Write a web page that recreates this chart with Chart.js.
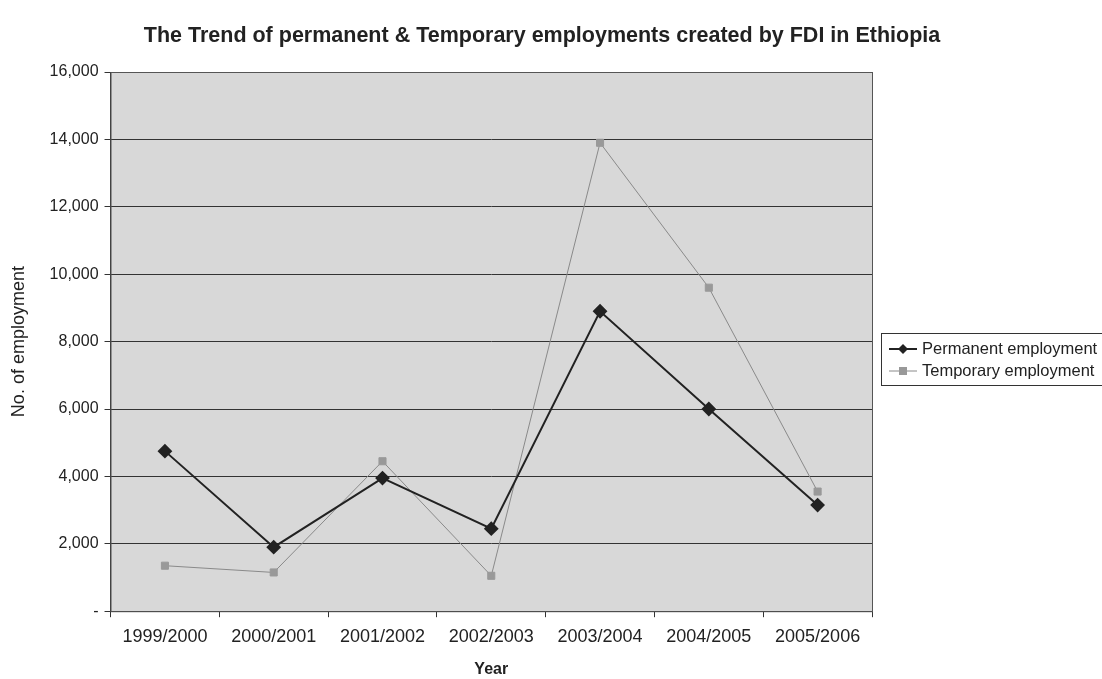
<!DOCTYPE html>
<html>
<head>
<meta charset="utf-8">
<script src="https://cdn.jsdelivr.net/npm/chart.js@4.4.1/dist/chart.umd.min.js"></script>
<style>
  html, body { margin: 0; padding: 0; background: #fff; }
  #wrap { width: 1102px; height: 679px; }
</style>
</head>
<body>
<div id="wrap"><canvas id="fdiChart" width="1102" height="679"></canvas></div>
<script>
// data
const years = ["1999/2000", "2000/2001", "2001/2002", "2002/2003", "2003/2004", "2004/2005", "2005/2006"];
const permanentJobs = [4750, 1900, 3950, 2450, 8900, 6000, 3150];
const temporaryJobs = [1350, 1150, 4450, 1050, 13900, 9600, 3550];
const yTicks = [0, 2000, 4000, 6000, 8000, 10000, 12000, 14000, 16000];
const chartTitle = "The Trend of permanent & Temporary employments created by FDI in Ethiopia";

const FONT = "'Liberation Sans', Arial, sans-serif";

// grey plot background + frame
const plotBackground = {
    id: "plotBackground",
    beforeDraw(chart) {
        const { ctx, chartArea: a } = chart;
        ctx.save();
        ctx.fillStyle = "#d8d8d8";
        ctx.fillRect(a.left, a.top, a.right - a.left, a.bottom - a.top);
        ctx.restore();
    },
    afterDraw(chart) {
        const { ctx, chartArea: a } = chart;
        ctx.save();
        ctx.strokeStyle = "#555";
        ctx.lineWidth = 1;
        ctx.strokeRect(a.left + 0.5, a.top + 0.5, a.right - a.left, a.bottom - a.top);
        ctx.restore();
    }
};

// title centred on the whole picture, not only on the plot
const pageTitle = {
    id: "pageTitle",
    afterDraw(chart) {
        const ctx = chart.ctx;
        ctx.save();
        ctx.font = "bold 21.5px " + FONT;
        ctx.fillStyle = "#222";
        ctx.textAlign = "center";
        ctx.textBaseline = "middle";
        ctx.fillText(chartTitle, 542, 36);
        ctx.restore();
    }
};

// Excel style legend: line sample with marker, framed box
const boxLegend = {
    id: "boxLegend",
    afterDraw(chart) {
        const { ctx, chartArea: a } = chart;
        const x = a.right + 9, y = 333, w = 230, h = 53;
        ctx.save();
        ctx.fillStyle = "#fff";
        ctx.fillRect(x, y, w, h);
        ctx.strokeStyle = "#333";
        ctx.lineWidth = 1;
        ctx.strokeRect(x + 0.5, y + 0.5, w - 1, h - 1);
        ctx.font = "16.5px " + FONT;
        ctx.textBaseline = "middle";
        chart.data.datasets.forEach((ds, i) => {
            const cy = y + 16 + i * 22;
            ctx.strokeStyle = ds.borderColor;
            ctx.lineWidth = ds.borderWidth;
            ctx.beginPath();
            ctx.moveTo(x + 8, cy);
            ctx.lineTo(x + 36, cy);
            ctx.stroke();
            ctx.fillStyle = ds.pointBackgroundColor;
            ctx.beginPath();
            if (ds.pointStyle === "rectRot") {
                ctx.moveTo(x + 22, cy - 5);
                ctx.lineTo(x + 27, cy);
                ctx.lineTo(x + 22, cy + 5);
                ctx.lineTo(x + 17, cy);
                ctx.closePath();
            } else {
                ctx.rect(x + 18, cy - 4, 8, 8);
            }
            ctx.fill();
            ctx.fillStyle = "#222";
            ctx.fillText(ds.label, x + 41, cy);
        });
        ctx.restore();
    }
};

new Chart(document.getElementById("fdiChart"), {
    type: "line",
    data: {
        labels: years,
        datasets: [
            {
                label: "Permanent employment",
                data: permanentJobs,
                borderColor: "#222",
                borderWidth: 2,
                pointStyle: "rectRot",
                pointRadius: 6,
                pointBackgroundColor: "#222",
                pointBorderColor: "#222",
                tension: 0
            },
            {
                label: "Temporary employment",
                data: temporaryJobs,
                borderColor: "#8a8a8a",
                borderWidth: 1,
                pointStyle: "rect",
                pointRadius: 5,
                pointBackgroundColor: "#999",
                pointBorderColor: "#999",
                tension: 0
            }
        ]
    },
    options: {
        responsive: false,
        animation: false,
        layout: { padding: { left: 8, right: 230, top: 72, bottom: 0 } },
        plugins: {
            legend: { display: false },
            tooltip: { enabled: false },
            title: { display: false }
        },
        scales: {
            x: {
                offset: true,
                grid: { offset: true, drawOnChartArea: false, color: "#333", tickLength: 6 },
                border: { color: "#333" },
                ticks: { color: "#222", font: { family: FONT, size: 18 }, padding: 9, maxRotation: 0 },
                title: { display: true, text: "Year", color: "#222", font: { family: FONT, size: 16, weight: "bold" }, padding: { top: 3, bottom: 0 } }
            },
            y: {
                min: 0,
                max: 16000,
                afterBuildTicks: (axis) => { axis.ticks = yTicks.map(v => ({ value: v })); },
                grid: { color: "#333", lineWidth: 1, tickLength: 6 },
                border: { color: "#333" },
                ticks: {
                    color: "#222",
                    font: { family: FONT, size: 16 },
                    padding: 6,
                    callback: (v) => v === 0 ? "-" : v.toLocaleString("en-US")
                },
                title: { display: true, text: "No. of employment", color: "#222", font: { family: FONT, size: 18 }, padding: { top: 0, bottom: 14 } }
            }
        }
    },
    plugins: [plotBackground, pageTitle, boxLegend]
});
</script>
</body>
</html>
